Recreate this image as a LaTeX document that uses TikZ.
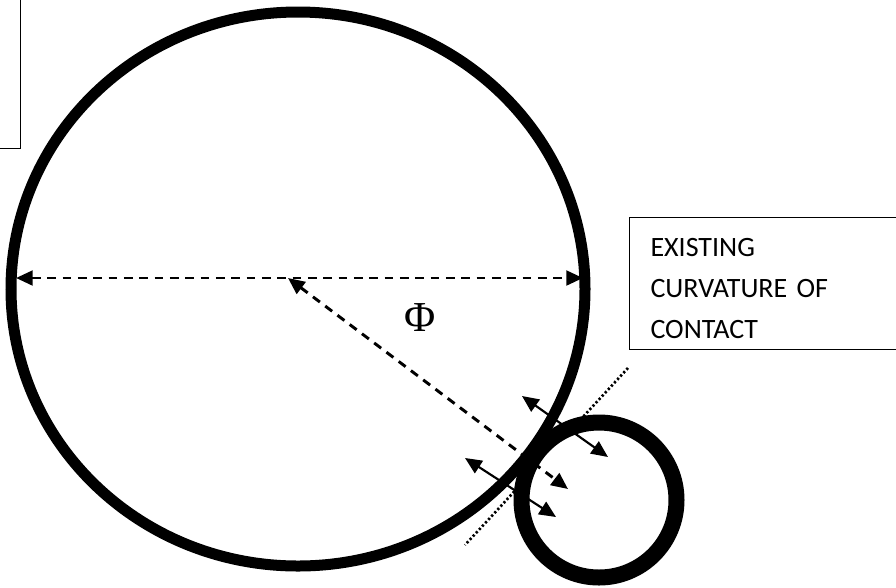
\documentclass[tikz,border=0pt]{standalone}
\usepackage{fontspec}
\newfontfamily\boxfont{Carlito}
\newfontfamily\greekfont{Liberation Serif}
\usetikzlibrary{arrows.meta,shapes.geometric}
\definecolor{ink}{gray}{0.0}
\tikzset{
  ring/.style={draw=ink, ellipse, inner sep=0pt},
  notebox/.style={draw=ink, line width=0.8pt, align=left, inner xsep=15.75pt,
                  font=\boxfont\fontsize{21}{31}\selectfont},
  spanline/.style={{Triangle[length=12.5pt,width=11pt]}-{Triangle[length=12.5pt,width=11pt]},
                   draw=ink, line width=2.2pt, dash pattern=on 6.5pt off 5pt},
  pusharrow/.style={{Triangle[length=12.5pt,width=11pt]}-{Triangle[length=12.5pt,width=11pt]},
                    draw=ink, line width=1.6pt},
  tangentline/.style={draw=ink, line width=2pt, dash pattern=on 1.7pt off 1.7pt},
}

\begin{document}
\begin{tikzpicture}[x=0.75pt, y=-0.75pt]
        \useasboundingbox (0,0) rectangle (896,587);
        \clip (0,0) rectangle (896,587);
        \coordinate (t1) at (628,368);
        \coordinate (t2) at (465,545);
        \draw[tangentline] (t1) -- (t2);
        \node[ring, fill=white, line width=12pt, minimum width=116.25pt, minimum height=116.25pt] (small) at (599,500) {};
        \node[ring, line width=8.25pt, minimum width=430.5pt, minimum height=415.5pt] (big) at (298,289) {};
        \node[notebox, anchor=south east, minimum width=60pt, minimum height=130pt] (old) at (21,149) {};
        \node[notebox, anchor=north west, text width=193.5pt, minimum height=99pt] (curv) at (629,217) {\rule{0pt}{21pt}EXISTING\\CURVATURE OF\\CONTACT};
        \node[font=\greekfont\fontsize{32}{32}\selectfont, inner sep=0pt] (phi) at (420,318) {Φ};
        \coordinate (dl) at (16,278);
        \coordinate (dr) at (583,278);
        \coordinate (rc) at (288,278);
        \coordinate (rt) at (568,489);
        \coordinate (a1s) at (522,396);
        \coordinate (a1e) at (608,457);
        \coordinate (a2s) at (465,458);
        \coordinate (a2e) at (556,517);
        \draw[spanline] (dl) -- (dr);
        \draw[spanline] (rc) -- (rt);
        \draw[pusharrow] (a1s) -- (a1e);
        \draw[pusharrow] (a2s) -- (a2e);
      \end{tikzpicture}
\end{document}
